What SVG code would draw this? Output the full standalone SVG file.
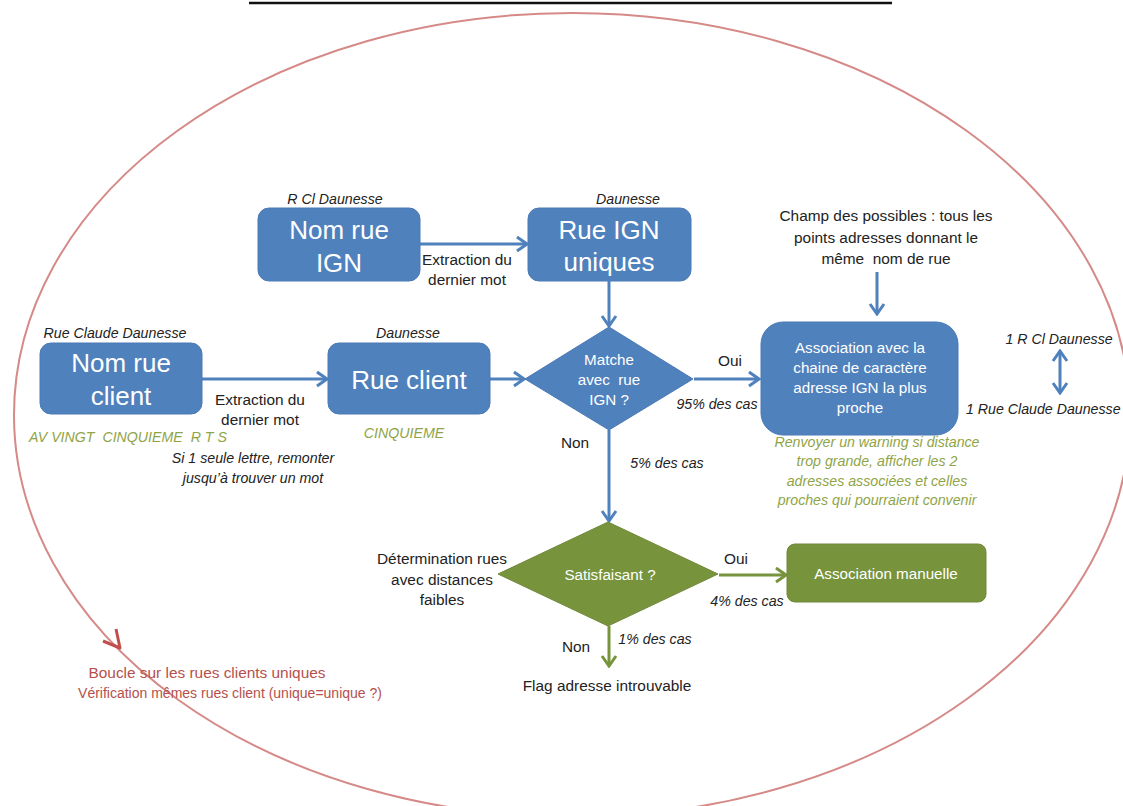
<svg xmlns="http://www.w3.org/2000/svg" width="1123" height="806" viewBox="0 0 1123 806">
<defs>
<style>
text{font-family:"Liberation Sans",Arial,sans-serif;text-anchor:middle;white-space:pre;}
.big{font-size:26px;fill:#fff;}
.w{font-size:15.2px;fill:#fff;}
.k{font-size:15.4px;fill:#222;}
.i{font-size:14.2px;font-style:italic;fill:#222;}
.g{font-size:14.2px;font-style:italic;fill:#8FA446;}
.r{font-size:15.4px;fill:#B5504C;}
.bl{fill:#4F81BD;stroke:#4A7AB5;stroke-width:1;}
.gr{fill:#77933C;stroke:#71893A;stroke-width:1;}
.ab{stroke:#4F81BD;stroke-width:3;fill:none;}
.ag{stroke:#77933C;stroke-width:3;fill:none;}
</style>
<marker id="mb" viewBox="0 0 14 18" refX="12" refY="9" markerWidth="14" markerHeight="18" markerUnits="userSpaceOnUse" orient="auto-start-reverse">
<path d="M2,2 L12,9 L2,16" fill="none" stroke="#4F81BD" stroke-width="3"/>
</marker>
<marker id="mg" viewBox="0 0 14 18" refX="12" refY="9" markerWidth="14" markerHeight="18" markerUnits="userSpaceOnUse" orient="auto">
<path d="M2,2 L12,9 L2,16" fill="none" stroke="#77933C" stroke-width="3"/>
</marker>
</defs>
<rect x="0" y="0" width="1123" height="806" fill="#fff"/>
<line x1="249" y1="3" x2="892" y2="3" stroke="#111" stroke-width="2.5"/>
<g id="loop">
<ellipse cx="572" cy="415" rx="558" ry="402" fill="none" stroke="#D58A88" stroke-width="2"/>
<path d="M103,641 L120,648 L116,629" fill="none" stroke="#C0504D" stroke-width="3" stroke-linejoin="round"/>
<text class="r" x="207" y="678">Boucle sur les rues clients uniques</text>
<text class="r" x="230" y="698" style="font-size:14px">Vérification mêmes rues client (unique=unique ?)</text>
</g>
<g id="connectors">
<line class="ab" x1="420" y1="244" x2="527" y2="244" marker-end="url(#mb)"/>
<line class="ab" x1="609" y1="281" x2="609" y2="326" marker-end="url(#mb)"/>
<line class="ab" x1="202" y1="379" x2="327" y2="379" marker-end="url(#mb)"/>
<line class="ab" x1="490" y1="379" x2="524" y2="379" marker-end="url(#mb)"/>
<line class="ab" x1="694" y1="379" x2="759" y2="379" marker-end="url(#mb)"/>
<line class="ab" x1="609" y1="430" x2="609" y2="521" marker-end="url(#mb)"/>
<line class="ab" x1="877" y1="272" x2="877" y2="314" marker-end="url(#mb)"/>
<line class="ab" x1="1060" y1="351" x2="1060" y2="393" marker-start="url(#mb)" marker-end="url(#mb)"/>
<line class="ag" x1="719" y1="575" x2="786" y2="575" marker-end="url(#mg)"/>
<line class="ag" x1="609" y1="626" x2="609" y2="666" marker-end="url(#mg)"/>
<text class="k" x="467" y="265">Extraction du</text>
<text class="k" x="467" y="285">dernier mot</text>
<text class="k" x="260" y="405">Extraction du</text>
<text class="k" x="260" y="425">dernier mot</text>
<text class="k" x="730" y="366">Oui</text>
<text class="i" x="717" y="409">95% des cas</text>
<text class="k" x="575" y="448">Non</text>
<text class="i" x="667" y="468">5% des cas</text>
<text class="k" x="736" y="564">Oui</text>
<text class="i" x="747" y="606">4% des cas</text>
<text class="k" x="576" y="652">Non</text>
<text class="i" x="655" y="644">1% des cas</text>
</g>
<g id="nom-rue-ign">
<text class="i" x="335" y="204">R Cl Daunesse</text>
<rect class="bl" x="258" y="208" width="162" height="73" rx="11"/>
<text class="big" x="339" y="239">Nom rue</text>
<text class="big" x="339" y="272">IGN</text>
</g>
<g id="rue-ign-uniques">
<text class="i" x="628" y="204">Daunesse</text>
<rect class="bl" x="528" y="208" width="163" height="73" rx="11"/>
<text class="big" x="609" y="239">Rue IGN</text>
<text class="big" x="609" y="271">uniques</text>
</g>
<g id="nom-rue-client">
<text class="i" x="115" y="338">Rue Claude Daunesse</text>
<rect class="bl" x="40" y="343" width="162" height="71" rx="11"/>
<text class="big" x="121" y="372">Nom rue</text>
<text class="big" x="121" y="405">client</text>
<text class="g" x="128" y="442">AV VINGT  CINQUIEME  R T S</text>
<text class="i" x="253" y="463">Si 1 seule lettre, remonter</text>
<text class="i" x="253" y="483">jusqu’à trouver un mot</text>
</g>
<g id="rue-client">
<text class="i" x="408" y="338">Daunesse</text>
<rect class="bl" x="328" y="343" width="162" height="71" rx="11"/>
<text class="big" x="409" y="389">Rue client</text>
<text class="g" x="404" y="438">CINQUIEME</text>
</g>
<g id="matche">
<polygon class="bl" points="525,379 609,327 693,379 609,430"/>
<text class="w" x="609" y="365">Matche</text>
<text class="w" x="609" y="385">avec  rue</text>
<text class="w" x="609" y="405">IGN ?</text>
</g>
<g id="champ">
<text class="k" x="886" y="221">Champ des possibles : tous les</text>
<text class="k" x="886" y="243">points adresses donnant le</text>
<text class="k" x="886" y="264">même  nom de rue</text>
</g>
<g id="association">
<rect class="bl" x="761" y="322" width="197" height="113" rx="22"/>
<text class="w" x="860" y="353">Association avec la</text>
<text class="w" x="860" y="373">chaine de caractère</text>
<text class="w" x="860" y="393">adresse IGN la plus</text>
<text class="w" x="860" y="413">proche</text>
<text class="g" x="877" y="447">Renvoyer un warning si distance</text>
<text class="g" x="877" y="466">trop grande, afficher les 2</text>
<text class="g" x="877" y="486">adresses associées et celles</text>
<text class="g" x="877" y="505">proches qui pourraient convenir</text>
</g>
<g id="exemple">
<text class="i" x="1059" y="344">1 R Cl Daunesse</text>
<text class="i" x="966" y="414" style="text-anchor:start">1 Rue Claude Daunesse</text>
</g>
<g id="satisfaisant">
<text class="k" x="442" y="564">Détermination rues</text>
<text class="k" x="442" y="585">avec distances</text>
<text class="k" x="442" y="605">faibles</text>
<polygon class="gr" points="498,574 608,522 718,574 608,626"/>
<text class="w" x="610" y="580">Satisfaisant ?</text>
</g>
<g id="association-manuelle">
<rect class="gr" x="787" y="544" width="199" height="58" rx="8"/>
<text class="w" x="886" y="579">Association manuelle</text>
</g>
<g id="flag">
<text class="k" x="607" y="691">Flag adresse introuvable</text>
</g>
</svg>
